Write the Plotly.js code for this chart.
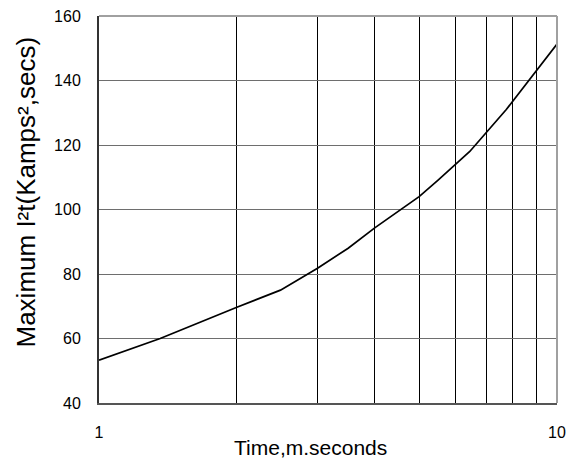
<!DOCTYPE html>
<html>
<head>
<meta charset="utf-8">
<script src="https://cdn.plot.ly/plotly-3.0.1.min.js"></script>
<style>html,body{margin:0;padding:0;background:#fff;}#chart{width:577px;height:475px;}</style>
</head>
<body>
<div id="chart"></div>
<script>
var timeMs = [1, 1.36, 2, 2.14, 2.49, 3, 3.5, 4, 5, 5.5, 6, 6.45, 7.75, 10];
var maxI2t = [53.3, 60, 69.7, 71.4, 75, 81.8, 88, 94.3, 104, 109.1, 113.8, 118, 131, 151.3];
var xTickVals = [1, 2, 3, 4, 5, 6, 7, 8, 9, 10];
var xTickText = ["1", "", "", "", "", "", "", "", "", "10"];
var yTickVals = [40, 60, 80, 100, 120, 140, 160];
var xTitle = "Time,m.seconds";
var yTitle = "Maximum I²t(Kamps²,secs)";

var font = "Liberation Sans, Arial, sans-serif";
var trace = {
  x: timeMs, y: maxI2t, type: "scatter", mode: "lines",
  line: {color: "#000", width: 1.7}, hoverinfo: "none"
};
var layout = {
  width: 577, height: 475,
  margin: {l: 99, r: 20, t: 16, b: 72},
  paper_bgcolor: "#fff", plot_bgcolor: "#fff",
  showlegend: false,
  font: {family: font, size: 16, color: "#000"},
  xaxis: {
    type: "log", range: [0, 1], tickvals: xTickVals, ticktext: xTickText,
    showgrid: true, gridcolor: "#000", gridwidth: 1,
    showline: true, linecolor: "#555", linewidth: 2,
    ticks: "", ticklabelstandoff: 14, zeroline: false,
    tickfont: {family: font, size: 16, color: "#000"}
  },
  yaxis: {
    range: [40, 160], tickvals: yTickVals,
    showgrid: true, gridcolor: "#6e6e6e", gridwidth: 1,
    showline: true, linecolor: "#333", linewidth: 2,
    ticks: "", ticklabelstandoff: 13, zeroline: false,
    tickfont: {family: font, size: 16, color: "#000"}
  },
  shapes: [
    {type: "line", xref: "paper", yref: "paper", x0: 0, x1: 1, y0: 1, y1: 1, line: {color: "#a0a0a0", width: 2}},
    {type: "line", xref: "paper", yref: "paper", x0: 1, x1: 1, y0: 0, y1: 1, line: {color: "#a0a0a0", width: 2}}
  ],
  annotations: [
    {text: xTitle, xref: "paper", yref: "paper", x: 0.4607, y: -0.1137, xanchor: "center", yanchor: "middle", showarrow: false, font: {family: font, size: 21, color: "#000"}},
    {text: yTitle, xref: "paper", yref: "paper", x: -0.1594, y: 0.5465, xanchor: "center", yanchor: "middle", textangle: -90, showarrow: false, font: {family: font, size: 26, color: "#000"}}
  ]
};
Plotly.newPlot("chart", [trace], layout, {staticPlot: true, displayModeBar: false});
</script>
</body>
</html>
